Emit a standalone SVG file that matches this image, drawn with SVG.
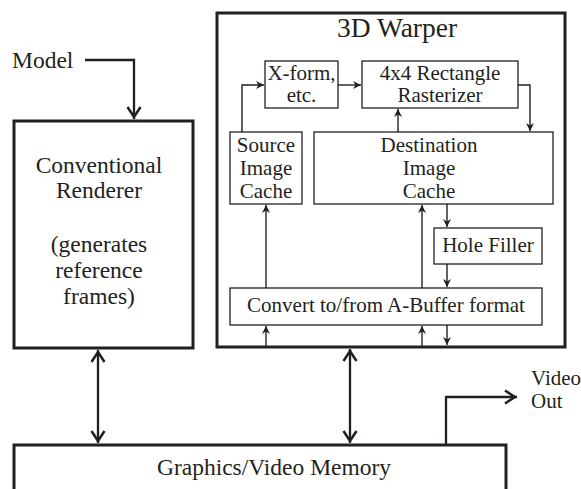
<svg xmlns="http://www.w3.org/2000/svg" width="581" height="489" viewBox="0 0 581 489">
<style>
text{font-family:"Liberation Serif","Times New Roman",serif;fill:#231f20;}
.big{font-size:23.5px;}
.in{font-size:21px;}
.title{font-size:27.5px;}
.thick{fill:#fff;stroke:#231f20;stroke-width:3;}
.thin{fill:#fff;stroke:#231f20;stroke-width:1.3;}
.cb{fill:none;stroke:#231f20;stroke-width:2.3;}
.cs{fill:none;stroke:#231f20;stroke-width:1.4;}
</style>
<defs>
<marker id="ab" markerUnits="userSpaceOnUse" markerWidth="16" markerHeight="16" viewBox="-14 -8 16 16" refX="0" refY="0" orient="auto-start-reverse">
<path d="M-12,-6.5 L-2,0 L-12,6.5" fill="none" stroke="#231f20" stroke-width="2.5" stroke-linejoin="miter"/>
</marker>
<marker id="as" markerUnits="userSpaceOnUse" markerWidth="10" markerHeight="10" viewBox="-9 -5 10 10" refX="0" refY="0" orient="auto-start-reverse">
<path d="M-8,-4 L0,0 L-8,4 L-5.5,0 Z" fill="#231f20"/>
</marker>
</defs>
<rect width="581" height="489" fill="#fff"/>

<g id="renderer">
<rect class="thick" x="14" y="121" width="179" height="227"/>
<text class="big" x="99" y="173" text-anchor="middle">Conventional</text>
<text class="big" x="99" y="198" text-anchor="middle">Renderer</text>
<text class="big" x="99" y="252" text-anchor="middle">(generates</text>
<text class="big" x="99" y="278" text-anchor="middle">reference</text>
<text class="big" x="99" y="304" text-anchor="middle">frames)</text>
</g>

<g id="warper">
<rect class="thick" x="217" y="13" width="348" height="334"/>
<text class="title" x="397" y="37" text-anchor="middle">3D Warper</text>
</g>

<g id="xform">
<rect class="thin" x="265" y="61" width="73" height="47"/>
<text class="in" x="301.5" y="80" text-anchor="middle">X-form,</text>
<text class="in" x="301.5" y="102" text-anchor="middle">etc.</text>
</g>

<g id="rasterizer">
<rect class="thin" x="362" y="61" width="156" height="47"/>
<text class="in" x="440" y="80" text-anchor="middle">4x4 Rectangle</text>
<text class="in" x="440" y="102" text-anchor="middle">Rasterizer</text>
</g>

<g id="source-cache">
<rect class="thin" x="230" y="132" width="72" height="72"/>
<text class="in" x="266" y="152" text-anchor="middle">Source</text>
<text class="in" x="266" y="175" text-anchor="middle">Image</text>
<text class="in" x="266" y="198" text-anchor="middle">Cache</text>
</g>

<g id="dest-cache">
<rect class="thin" x="314" y="132" width="239" height="72"/>
<text class="in" x="429" y="152" text-anchor="middle">Destination</text>
<text class="in" x="429" y="175" text-anchor="middle">Image</text>
<text class="in" x="429" y="198" text-anchor="middle">Cache</text>
</g>

<g id="hole-filler">
<rect class="thin" x="434" y="228" width="108" height="36"/>
<text class="in" x="488" y="252" text-anchor="middle">Hole Filler</text>
</g>

<g id="convert">
<rect class="thin" x="230" y="288" width="312" height="37"/>
<text class="in" x="386" y="312" text-anchor="middle">Convert to/from A-Buffer format</text>
</g>

<g id="memory">
<rect class="thick" x="14" y="445" width="492" height="60"/>
<text class="big" x="274" y="475" text-anchor="middle">Graphics/Video Memory</text>
</g>

<g id="labels">
<text class="big" x="12" y="68">Model</text>
<text class="in" x="531" y="385">Video</text>
<text class="in" x="531" y="408">Out</text>
</g>

<g id="connectors">
<path class="cb" d="M85,60 H134 V119" marker-end="url(#ab)"/>
<path class="cb" d="M98,350 V443" marker-start="url(#ab)" marker-end="url(#ab)"/>
<path class="cb" d="M350,349 V443" marker-start="url(#ab)" marker-end="url(#ab)"/>
<path class="cb" d="M446,444 V397 H517" marker-end="url(#ab)"/>
<path class="cs" d="M242,132 V85 H264" marker-end="url(#as)"/>
<path class="cs" d="M338,85 H361" marker-end="url(#as)"/>
<path class="cs" d="M518,85 H530 V131" marker-end="url(#as)"/>
<path class="cs" d="M398,132 V109" marker-end="url(#as)"/>
<path class="cs" d="M266,288 V205" marker-end="url(#as)"/>
<path class="cs" d="M422,288 V205" marker-end="url(#as)"/>
<path class="cs" d="M447,204 V227" marker-end="url(#as)"/>
<path class="cs" d="M447,264 V287" marker-end="url(#as)"/>
<path class="cs" d="M266,346 V326" marker-end="url(#as)"/>
<path class="cs" d="M422,346 V326" marker-end="url(#as)"/>
<path class="cs" d="M447,325 V345" marker-end="url(#as)"/>
</g>
</svg>
